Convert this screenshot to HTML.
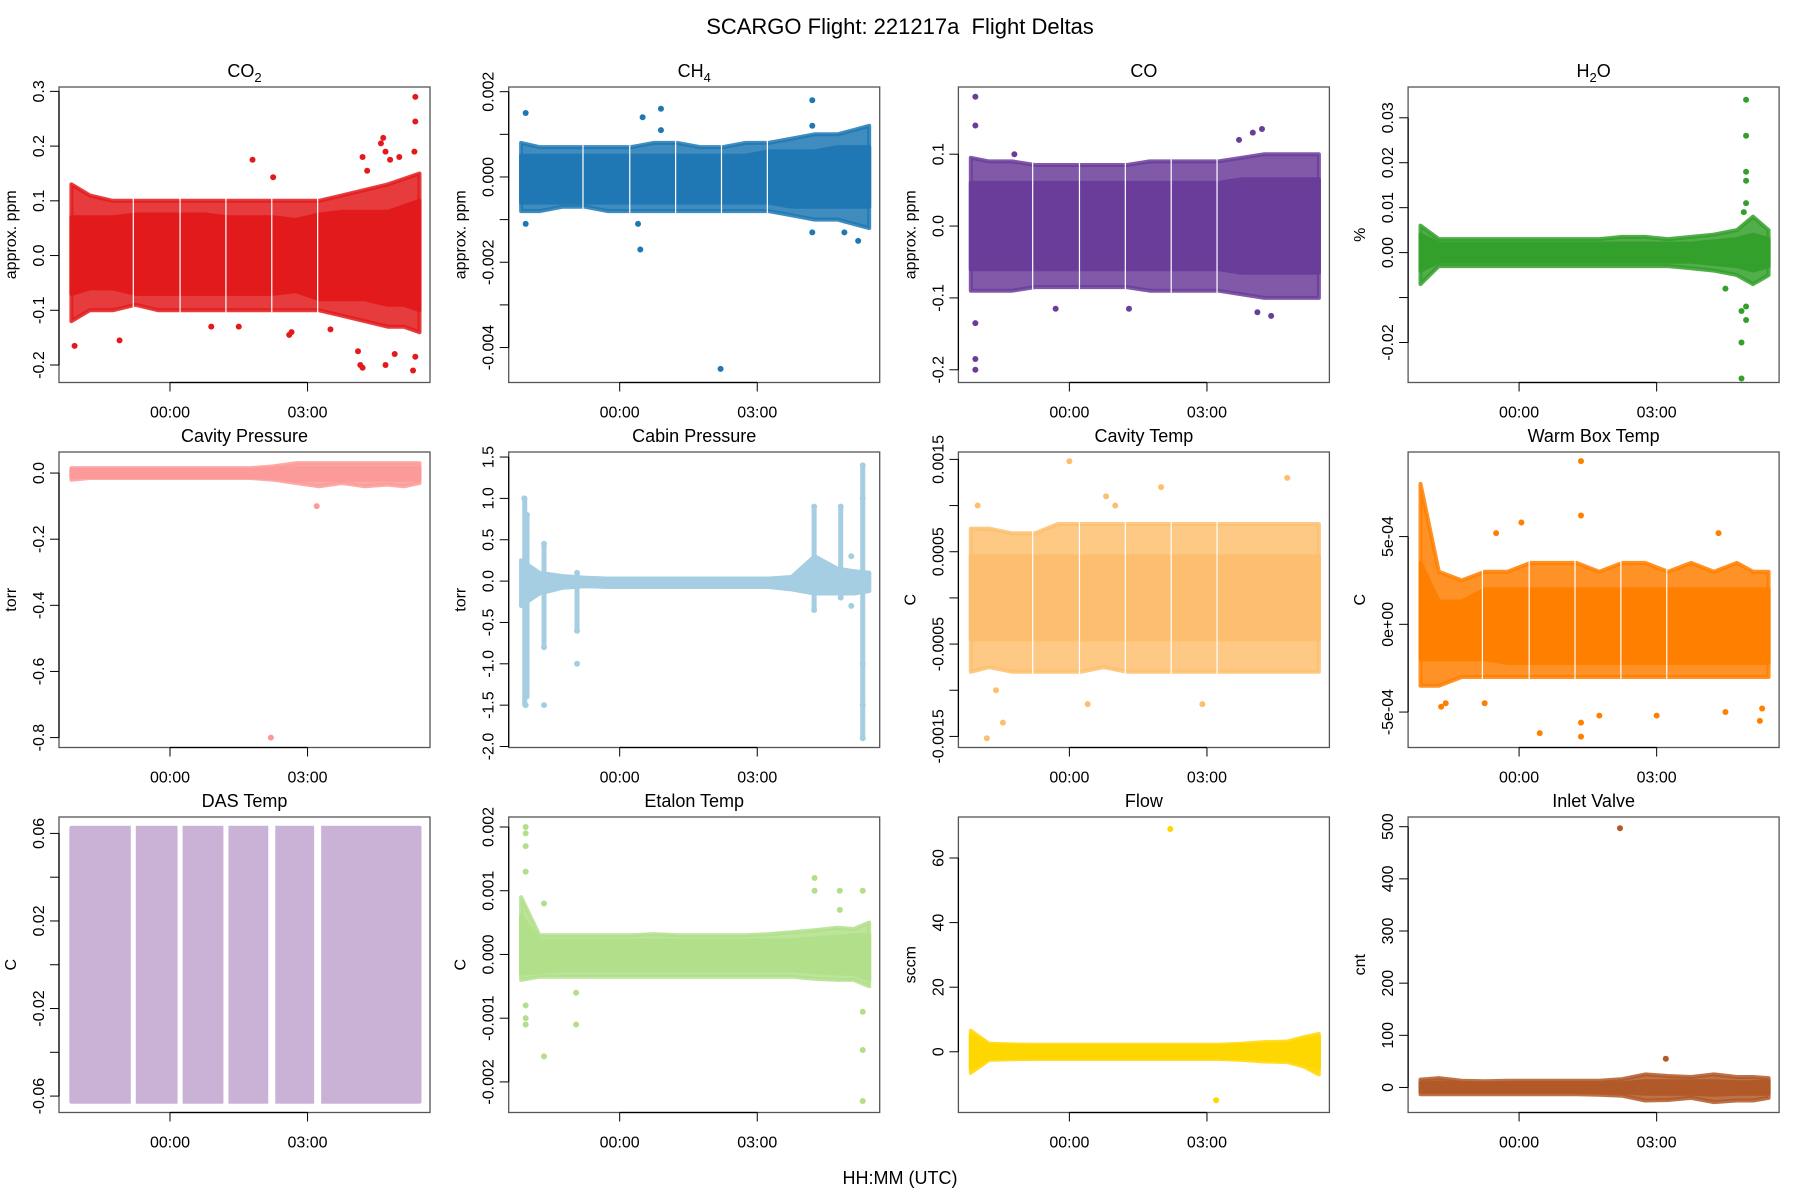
<!DOCTYPE html>
<html><head><meta charset="utf-8"><title>SCARGO Flight Deltas</title>
<style>
html,body{margin:0;padding:0;background:#fff;}
svg{display:block;font-family:"Liberation Sans",Arial,sans-serif;}
</style></head>
<body>
<svg id="chart" width="1800" height="1200" viewBox="0 0 1800 1200" xmlns="http://www.w3.org/2000/svg">
<rect x="0" y="0" width="1800" height="1200" fill="#fff"/>
<text x="900" y="34" font-size="22" text-anchor="middle" fill="#000">SCARGO Flight: 221217a&#160; Flight Deltas</text>
<text x="900" y="1184" font-size="18" text-anchor="middle" fill="#000">HH:MM (UTC)</text>
</svg>
<script>
// ---- shared time data (hours relative to 00:00 UTC) ----
const binT = [-2.15,-1.75,-1.25,-0.75,-0.25,0.25,0.75,1.25,1.75,2.25,2.75,3.25,3.75,4.25,4.75,5.1,5.44];
const gapT = [-0.8,0.22,1.22,2.22,3.22];
const xTickVals = [0,3];
const xTickLabels = ["00:00","03:00"];

// ---- CO2 ----
const co2InHi = [0.07,0.07,0.07,0.075,0.075,0.075,0.075,0.07,0.07,0.07,0.065,0.075,0.08,0.08,0.08,0.09,0.1];
const co2InLo = [-0.07,-0.06,-0.06,-0.07,-0.07,-0.07,-0.07,-0.07,-0.07,-0.07,-0.065,-0.08,-0.08,-0.08,-0.09,-0.09,-0.1];
const co2OutHi = [0.13,0.11,0.1,0.1,0.1,0.1,0.1,0.1,0.1,0.1,0.1,0.1,0.11,0.12,0.13,0.14,0.15];
const co2OutLo = [-0.12,-0.1,-0.1,-0.09,-0.1,-0.1,-0.1,-0.1,-0.1,-0.1,-0.1,-0.1,-0.11,-0.12,-0.13,-0.13,-0.14];
const co2PtT = [-2.08,-1.1,1.8,2.25,2.6,2.65,4.2,4.3,4.6,4.65,4.7,4.8,5.0,5.35,5.35,5.33,4.15,4.2,4.1,4.7,5.3,5.35,4.9,3.5,0.9,1.5];
const co2PtV = [-0.165,-0.155,0.175,0.143,-0.145,-0.14,0.18,0.155,0.205,0.215,0.19,0.175,0.18,0.29,0.245,0.19,-0.2,-0.205,-0.175,-0.2,-0.21,-0.185,-0.18,-0.135,-0.13,-0.13];
// ---- CH4 ----
const ch4InHi = [0.0005,0.0005,0.0005,0.0005,0.0005,0.0005,0.0005,0.0005,0.0005,0.0005,0.0005,0.0006,0.0006,0.0006,0.0007,0.0007,0.0007];
const ch4InLo = [-0.0006,-0.0006,-0.0006,-0.0006,-0.0006,-0.0006,-0.0006,-0.0006,-0.0006,-0.0006,-0.0006,-0.0006,-0.0007,-0.0007,-0.0007,-0.0007,-0.0007];
const ch4OutHi = [0.0008,0.0007,0.0007,0.0007,0.0007,0.0007,0.0008,0.0008,0.0007,0.0007,0.0008,0.0008,0.0009,0.001,0.001,0.0011,0.0012];
const ch4OutLo = [-0.0008,-0.0008,-0.0007,-0.0007,-0.0008,-0.0008,-0.0008,-0.0008,-0.0008,-0.0008,-0.0008,-0.0008,-0.0009,-0.001,-0.001,-0.0011,-0.0012];
const ch4PtT = [-2.05,-2.05,0.5,0.45,0.9,0.9,2.2,4.2,4.2,4.2,5.2,4.9,0.4];
const ch4PtV = [0.0015,-0.0011,0.0014,-0.0017,0.0016,0.0011,-0.0045,0.0018,0.0012,-0.0013,-0.0015,-0.0013,-0.0011];
// ---- CO ----
const coInHi = [0.06,0.06,0.06,0.06,0.06,0.06,0.06,0.06,0.06,0.06,0.06,0.06,0.065,0.065,0.065,0.065,0.065];
const coInLo = [-0.06,-0.06,-0.06,-0.06,-0.06,-0.06,-0.06,-0.06,-0.06,-0.06,-0.06,-0.06,-0.065,-0.065,-0.065,-0.065,-0.065];
const coOutHi = [0.095,0.09,0.09,0.085,0.085,0.085,0.085,0.085,0.09,0.09,0.09,0.09,0.095,0.1,0.1,0.1,0.1];
const coOutLo = [-0.09,-0.09,-0.09,-0.085,-0.085,-0.085,-0.085,-0.085,-0.09,-0.09,-0.09,-0.09,-0.095,-0.1,-0.1,-0.1,-0.1];
const coPtT = [-2.05,-2.05,-2.05,-2.05,-2.05,4.0,4.2,3.7,4.1,4.4,-0.3,1.3,-1.2];
const coPtV = [0.18,0.14,-0.135,-0.185,-0.2,0.13,0.135,0.12,-0.12,-0.125,-0.115,-0.115,0.1];
// ---- H2O ----
const h2oInHi = [0.004,0.002,0.002,0.002,0.002,0.002,0.002,0.002,0.002,0.002,0.002,0.002,0.002,0.0025,0.003,0.004,0.003];
const h2oInLo = [-0.004,-0.002,-0.002,-0.002,-0.002,-0.002,-0.002,-0.002,-0.002,-0.002,-0.002,-0.002,-0.002,-0.0025,-0.003,-0.004,-0.003];
const h2oOutHi = [0.006,0.003,0.003,0.003,0.003,0.003,0.003,0.003,0.003,0.0035,0.0035,0.003,0.0035,0.004,0.005,0.008,0.005];
const h2oOutLo = [-0.007,-0.003,-0.003,-0.003,-0.003,-0.003,-0.003,-0.003,-0.003,-0.003,-0.003,-0.003,-0.0035,-0.004,-0.005,-0.007,-0.005];
const h2oPtT = [4.95,4.95,4.95,4.95,4.95,4.9,4.85,4.85,4.85,4.95,4.95,4.5];
const h2oPtV = [0.034,0.026,0.018,0.016,0.011,0.009,-0.013,-0.02,-0.028,-0.015,-0.012,-0.008];
// ---- Cavity Pressure ----
const cavpInHi = [0.01,0.01,0.01,0.01,0.01,0.01,0.01,0.01,0.01,0.012,0.015,0.015,0.015,0.015,0.015,0.015,0.015];
const cavpInLo = [-0.012,-0.012,-0.012,-0.012,-0.012,-0.012,-0.012,-0.012,-0.012,-0.015,-0.02,-0.02,-0.02,-0.02,-0.02,-0.02,-0.02];
const cavpOutHi = [0.015,0.015,0.015,0.015,0.015,0.015,0.015,0.015,0.015,0.02,0.03,0.03,0.03,0.03,0.03,0.03,0.03];
const cavpOutLo = [-0.02,-0.015,-0.015,-0.015,-0.015,-0.015,-0.015,-0.015,-0.015,-0.02,-0.03,-0.04,-0.03,-0.04,-0.035,-0.04,-0.03];
const cavpPtT = [3.2,2.2];
const cavpPtV = [-0.1,-0.8];
// ---- Cabin Pressure ----
const cabInHi = [0.25,0.1,0.06,0.04,0.03,0.03,0.03,0.03,0.03,0.03,0.03,0.03,0.05,0.3,0.15,0.12,0.1];
const cabInLo = [-0.3,-0.15,-0.08,-0.06,-0.07,-0.07,-0.07,-0.07,-0.07,-0.07,-0.07,-0.07,-0.1,-0.15,-0.15,-0.15,-0.12];
const cabOutHi = cabInHi;
const cabOutLo = cabInLo;
const cabPtT = [-2.08,-2.05,-2.02,-2.05,-1.65,-1.65,-1.65,-0.93,-0.93,-0.93,4.24,4.24,4.82,4.82,5.05,5.05,5.3,5.3,5.3,5.3,5.3];
const cabPtV = [1.0,-1.5,0.8,-1.3,0.45,-0.8,-1.5,0.1,-0.6,-1.0,0.9,-0.35,0.9,-0.2,0.3,-0.3,1.4,1.0,-1.0,-1.5,-1.9];
const cabSpikeT = [-2.07,-2.02,-1.65,-0.93,4.24,4.82,5.3];
const cabSpikeHi = [1.0,0.8,0.45,0.1,0.9,0.9,1.4];
const cabSpikeLo = [-1.5,-1.4,-0.8,-0.6,-0.35,-0.2,-1.9];
// ---- Cavity Temp ----
const cavtInHi = [0.00045,0.00045,0.00045,0.00045,0.00045,0.00045,0.00045,0.00045,0.00045,0.00045,0.00045,0.00045,0.00045,0.00045,0.00045,0.00045,0.00045];
const cavtInLo = [-0.00045,-0.00045,-0.00045,-0.00045,-0.00045,-0.00045,-0.00045,-0.00045,-0.00045,-0.00045,-0.00045,-0.00045,-0.00045,-0.00045,-0.00045,-0.00045,-0.00045];
const cavtOutHi = [0.00075,0.00075,0.0007,0.0007,0.0008,0.0008,0.0008,0.0008,0.0008,0.0008,0.0008,0.0008,0.0008,0.0008,0.0008,0.0008,0.0008];
const cavtOutLo = [-0.0008,-0.00075,-0.0008,-0.0008,-0.0008,-0.0008,-0.00075,-0.0008,-0.0008,-0.0008,-0.0008,-0.0008,-0.0008,-0.0008,-0.0008,-0.0008,-0.0008];
const cavtPtT = [0.0,4.75,2.0,-1.45,-1.8,0.4,2.9,0.8,1.0,-2.0,-1.6];
const cavtPtV = [0.00148,0.0013,0.0012,-0.00135,-0.00152,-0.00115,-0.00115,0.0011,0.001,0.001,-0.001];
// ---- Warm Box Temp ----
const wbInHi = [0.00035,0.00013,0.00013,0.0002,0.0002,0.0002,0.0002,0.0002,0.0002,0.0002,0.0002,0.0002,0.0002,0.0002,0.0002,0.0002,0.0002];
const wbInLo = [-0.0002,-0.0002,-0.0002,-0.0002,-0.00022,-0.00022,-0.00022,-0.00022,-0.00022,-0.00022,-0.00022,-0.00022,-0.00022,-0.00022,-0.00022,-0.00022,-0.00022];
const wbOutHi = [0.0008,0.0003,0.00025,0.0003,0.0003,0.00035,0.00035,0.00035,0.0003,0.00035,0.00035,0.0003,0.00035,0.0003,0.00035,0.0003,0.0003];
const wbOutLo = [-0.00035,-0.00035,-0.0003,-0.0003,-0.0003,-0.0003,-0.0003,-0.0003,-0.0003,-0.0003,-0.0003,-0.0003,-0.0003,-0.0003,-0.0003,-0.0003,-0.0003];
const wbPtT = [1.35,1.35,0.05,-0.5,0.45,1.35,1.35,1.75,3.0,5.25,5.3,4.5,4.35,-1.7,-1.6,-0.75];
const wbPtV = [0.00093,0.00062,0.00058,0.00052,-0.00062,-0.00064,-0.00056,-0.00052,-0.00052,-0.00055,-0.00048,-0.0005,0.00052,-0.00047,-0.00045,-0.00045];
// ---- DAS Temp ----
const dasInHi = [0.0625,0.0625,0.0625,0.0625,0.0625,0.0625,0.0625,0.0625,0.0625,0.0625,0.0625,0.0625,0.0625,0.0625,0.0625,0.0625,0.0625];
const dasInLo = [-0.0625,-0.0625,-0.0625,-0.0625,-0.0625,-0.0625,-0.0625,-0.0625,-0.0625,-0.0625,-0.0625,-0.0625,-0.0625,-0.0625,-0.0625,-0.0625,-0.0625];
const dasOutHi = dasInHi;
const dasOutLo = dasInLo;
const dasPtT = [];
const dasPtV = [];
// ---- Etalon Temp ----
const etInHi = [0.0006,0.00022,0.00022,0.00022,0.00022,0.00022,0.00022,0.00022,0.00022,0.00022,0.00022,0.00022,0.00022,0.00025,0.00028,0.0003,0.0003];
const etInLo = [-0.0003,-0.00028,-0.00025,-0.00025,-0.00025,-0.00025,-0.00025,-0.00025,-0.00025,-0.00025,-0.00025,-0.00025,-0.00025,-0.00028,-0.0003,-0.0003,-0.0004];
const etOutHi = [0.0009,0.0003,0.0003,0.0003,0.0003,0.0003,0.00032,0.0003,0.0003,0.0003,0.0003,0.00032,0.00035,0.00038,0.00042,0.0004,0.0005];
const etOutLo = [-0.0004,-0.00035,-0.00035,-0.00035,-0.00035,-0.00035,-0.00035,-0.00035,-0.00035,-0.00035,-0.00035,-0.00035,-0.00035,-0.00038,-0.0004,-0.0004,-0.0005];
const etPtT = [-2.05,-2.05,-2.05,-2.05,-2.05,-2.05,-2.05,-1.65,-1.65,-0.95,-0.95,4.25,4.25,4.8,4.8,5.3,5.3,5.3,5.3];
const etPtV = [0.002,0.0019,0.0017,0.0013,-0.0008,-0.001,-0.0011,-0.0016,0.0008,-0.0011,-0.0006,0.0012,0.001,0.001,0.0007,0.001,-0.0015,-0.0023,-0.0009];
// ---- Flow ----
const flInHi = [5,2,1.8,1.8,1.8,1.8,1.8,1.8,1.8,1.8,1.8,1.8,2,2.2,2.5,3.5,4.5];
const flInLo = [-5,-2,-1.8,-1.8,-1.8,-1.8,-1.8,-1.8,-1.8,-1.8,-1.8,-1.8,-2,-2.2,-2.5,-3.5,-5];
const flOutHi = [6.5,2.5,2.3,2.2,2.2,2.2,2.2,2.2,2.2,2.2,2.2,2.2,2.5,3,3.2,4.5,5.5];
const flOutLo = [-6.5,-2.5,-2.3,-2.2,-2.2,-2.2,-2.2,-2.2,-2.2,-2.2,-2.2,-2.2,-2.5,-3,-3.2,-4.5,-7];
const flPtT = [2.2,3.2];
const flPtV = [69,-15];
// ---- Inlet Valve ----
const ivInHi = [8,9,7,7,7,7,7,7,7,8,12,12,12,12,10,10,12];
const ivInLo = [-8,-8,-8,-8,-8,-8,-8,-8,-8,-9,-12,-12,-12,-14,-12,-12,-12];
const ivOutHi = [15,18,13,12,13,13,13,13,13,16,25,22,20,25,20,20,18];
const ivOutLo = [-13,-13,-13,-13,-13,-13,-13,-13,-14,-16,-25,-24,-20,-28,-25,-25,-20];
const ivPtT = [2.2,3.2];
const ivPtV = [497,55];

// ---- y axis ticks ----
const co2Ticks = [-0.2,-0.1,0,0.1,0.2,0.3];
const co2TickLabels = ["-0.2","-0.1","0.0","0.1","0.2","0.3"];
const ch4Ticks = [-0.004,-0.003,-0.002,-0.001,0,0.001,0.002];
const ch4TickLabels = ["-0.004","","-0.002","","0.000","","0.002"];
const coTicks = [-0.2,-0.1,0,0.1];
const coTickLabels = ["-0.2","-0.1","0.0","0.1"];
const h2oTicks = [-0.02,-0.01,0,0.01,0.02,0.03];
const h2oTickLabels = ["-0.02","","0.00","0.01","0.02","0.03"];
const cavpTicks = [-0.8,-0.6,-0.4,-0.2,0];
const cavpTickLabels = ["-0.8","-0.6","-0.4","-0.2","0.0"];
const cabTicks = [-2,-1.5,-1,-0.5,0,0.5,1,1.5];
const cabTickLabels = ["-2.0","-1.5","-1.0","-0.5","0.0","0.5","1.0","1.5"];
const cavtTicks = [-0.0015,-0.001,-0.0005,0,0.0005,0.001,0.0015];
const cavtTickLabels = ["-0.0015","","-0.0005","","0.0005","","0.0015"];
const wbTicks = [-0.0005,0,0.0005];
const wbTickLabels = ["-5e-04","0e+00","5e-04"];
const dasTicks = [-0.06,-0.04,-0.02,0,0.02,0.04,0.06];
const dasTickLabels = ["-0.06","","-0.02","","0.02","","0.06"];
const etTicks = [-0.002,-0.001,0,0.001,0.002];
const etTickLabels = ["-0.002","-0.001","0.000","0.001","0.002"];
const flTicks = [0,20,40,60];
const flTickLabels = ["0","20","40","60"];
const ivTicks = [0,100,200,300,400,500];
const ivTickLabels = ["0","100","200","300","400","500"];

const panels = [
 {key:"co2",title:["CO","2"],ylab:"approx. ppm",col:"#e31a1c",dom:[-0.232,0.308],inHi:co2InHi,inLo:co2InLo,outHi:co2OutHi,outLo:co2OutLo,pt:co2PtT,pv:co2PtV,ticks:co2Ticks,tl:co2TickLabels,gaps:1},
 {key:"ch4",title:["CH","4"],ylab:"approx. ppm",col:"#1f78b4",dom:[-0.00482,0.00211],inHi:ch4InHi,inLo:ch4InLo,outHi:ch4OutHi,outLo:ch4OutLo,pt:ch4PtT,pv:ch4PtV,ticks:ch4Ticks,tl:ch4TickLabels,gaps:1},
 {key:"co",title:["CO",""],ylab:"approx. ppm",col:"#6a3d9a",dom:[-0.2177,0.1935],inHi:coInHi,inLo:coInLo,outHi:coOutHi,outLo:coOutLo,pt:coPtT,pv:coPtV,ticks:coTicks,tl:coTickLabels,gaps:1},
 {key:"h2o",title:["H","2","O"],ylab:"%",col:"#33a02c",dom:[-0.0289,0.03685],inHi:h2oInHi,inLo:h2oInLo,outHi:h2oOutHi,outLo:h2oOutLo,pt:h2oPtT,pv:h2oPtV,ticks:h2oTicks,tl:h2oTickLabels,gaps:0},
 {key:"cavity-pressure",title:["Cavity Pressure"],ylab:"torr",col:"#fb9a99",dom:[-0.83,0.0637],inHi:cavpInHi,inLo:cavpInLo,outHi:cavpOutHi,outLo:cavpOutLo,pt:cavpPtT,pv:cavpPtV,ticks:cavpTicks,tl:cavpTickLabels,gaps:0},
 {key:"cabin-pressure",title:["Cabin Pressure"],ylab:"torr",col:"#a6cee3",dom:[-2.012,1.561],inHi:cabInHi,inLo:cabInLo,outHi:cabOutHi,outLo:cabOutLo,pt:cabPtT,pv:cabPtV,ticks:cabTicks,tl:cabTickLabels,gaps:0,spikes:[cabSpikeT,cabSpikeHi,cabSpikeLo]},
 {key:"cavity-temp",title:["Cavity Temp"],ylab:"C",col:"#fdbf6f",dom:[-0.00162,0.00158],inHi:cavtInHi,inLo:cavtInLo,outHi:cavtOutHi,outLo:cavtOutLo,pt:cavtPtT,pv:cavtPtV,ticks:cavtTicks,tl:cavtTickLabels,gaps:1},
 {key:"warm-box-temp",title:["Warm Box Temp"],ylab:"C",col:"#ff7f00",dom:[-0.000702,0.000982],inHi:wbInHi,inLo:wbInLo,outHi:wbOutHi,outLo:wbOutLo,pt:wbPtT,pv:wbPtV,ticks:wbTicks,tl:wbTickLabels,gaps:1},
 {key:"das-temp",title:["DAS Temp"],ylab:"C",col:"#cab2d6",dom:[-0.0675,0.0675],inHi:dasInHi,inLo:dasInLo,outHi:dasOutHi,outLo:dasOutLo,pt:dasPtT,pv:dasPtV,ticks:dasTicks,tl:dasTickLabels,gaps:2},
 {key:"etalon-temp",title:["Etalon Temp"],ylab:"C",col:"#b2df8a",dom:[-0.00248,0.002157],inHi:etInHi,inLo:etInLo,outHi:etOutHi,outLo:etOutLo,pt:etPtT,pv:etPtV,ticks:etTicks,tl:etTickLabels,gaps:0},
 {key:"flow",title:["Flow"],ylab:"sccm",col:"#ffd700",dom:[-18.8,72.7],inHi:flInHi,inLo:flInLo,outHi:flOutHi,outLo:flOutLo,pt:flPtT,pv:flPtV,ticks:flTicks,tl:flTickLabels,gaps:0},
 {key:"inlet-valve",title:["Inlet Valve"],ylab:"cnt",col:"#b15928",dom:[-48,518.6],inHi:ivInHi,inLo:ivInLo,outHi:ivOutHi,outLo:ivOutLo,pt:ivPtT,pv:ivPtV,ticks:ivTicks,tl:ivTickLabels,gaps:0}
];

const NS = "http://www.w3.org/2000/svg";
const svg = document.getElementById("chart");
const X0 = -2.42, X1 = 5.67;
const colLeft = [59, 508.7, 958.4, 1408.1];
const rowTop = [87, 452, 817];
const W = 371, H = 295.5;

function mk(tag, attrs, parent){
  const e = document.createElementNS(NS, tag);
  for (const k in attrs) e.setAttribute(k, attrs[k]);
  (parent||svg).appendChild(e);
  return e;
}

panels.forEach((p, i) => {
  const L = colLeft[i % 4], T = rowTop[Math.floor(i / 4)];
  const xs = t => L + (t - X0) / (X1 - X0) * W;
  const ys = v => T + H - (v - p.dom[0]) / (p.dom[1] - p.dom[0]) * H;
  const g = mk("g", {});
  
  
  const clipId = "clip" + i;
  const cp = mk("clipPath", {id: clipId}, g);
  mk("rect", {x: L, y: T, width: W, height: H}, cp);
  const data = mk("g", {"clip-path": "url(#" + clipId + ")"}, g);
  
  

  const band = (hi, lo, op, name) => {
    let d = "";
    binT.forEach((t, j) => { d += (j ? "L" : "M") + xs(t).toFixed(1) + "," + ys(hi[j]).toFixed(1); });
    for (let j = binT.length - 1; j >= 0; j--) d += "L" + xs(binT[j]).toFixed(1) + "," + ys(lo[j]).toFixed(1);
    d += "Z";
    const pth = mk("path", {d: d, fill: p.col, "fill-opacity": op, stroke: p.col, "stroke-width": 4, "stroke-opacity": op, "stroke-linejoin": "round"}, data);
    
    
  };
  band(p.outHi, p.outLo, 0.85, p.key + '-outer-band');
  band(p.inHi, p.inLo, 1, p.key + '-core-band');

  if (p.spikes) {
    p.spikes[0].forEach((t, j) => {
      const ln = mk("line", {x1: xs(t), x2: xs(t), y1: ys(p.spikes[1][j]), y2: ys(p.spikes[2][j]), stroke: p.col, "stroke-width": 5, "stroke-linecap": "round"}, data);
      
      
    });
  }
  if (p.gaps) {
    gapT.forEach(t => {
      const ln = mk("line", {x1: xs(t), x2: xs(t), y1: T, y2: T + H, stroke: "#fff", "stroke-width": p.gaps === 2 ? (t > 2 ? 7 : 5) : 1.2}, data);
      
      
    });
  }
  p.pt.forEach((t, j) => {
    const c = mk("circle", {cx: xs(t), cy: ys(p.pv[j]), r: 3, fill: p.col}, data);
    
    
  });

  const box = mk("rect", {x: L, y: T, width: W, height: H, fill: "none", stroke: "#555", "stroke-width": 1.3}, g);
  
  

  const xa = mk("line", {x1: xs(xTickVals[0]), x2: xs(xTickVals[xTickVals.length - 1]), y1: T + H, y2: T + H, stroke: "#000", "stroke-width": 1.2}, g);
  
  
  xTickVals.forEach((v, j) => {
    const tk = mk("line", {x1: xs(v), x2: xs(v), y1: T + H, y2: T + H + 9, stroke: "#000", "stroke-width": 1}, g);
    
    
    const tx = mk("text", {x: xs(v), y: T + H + 35, "font-size": 16, "text-anchor": "middle", fill: "#000"}, g);
    tx.textContent = xTickLabels[j];
    
    
  });

  const ya = mk("line", {x1: L, x2: L, y1: ys(p.ticks[0]), y2: ys(p.ticks[p.ticks.length - 1]), stroke: "#000", "stroke-width": 1.2}, g);
  
  
  p.ticks.forEach((v, j) => {
    const y = ys(v);
    const tk = mk("line", {x1: L - 9, x2: L, y1: y, y2: y, stroke: "#000", "stroke-width": 1}, g);
    
    
    if (p.tl[j]) {
      const tx = mk("text", {x: 0, y: 0, "font-size": 16, "text-anchor": "middle", fill: "#000", transform: "translate(" + (L - 15) + "," + y + ") rotate(-90)"}, g);
      tx.textContent = p.tl[j];
      
      
    }
  });
  const yl = mk("text", {x: 0, y: 0, "font-size": 16, "text-anchor": "middle", fill: "#000", transform: "translate(" + (L - 43) + "," + (T + H / 2) + ") rotate(-90)"}, g);
  yl.textContent = p.ylab;
  
  

  const tt = mk("text", {x: L + W / 2, y: T - 10, "font-size": 18, "text-anchor": "middle", fill: "#000"}, g);
  
  
  if (p.title.length === 1) {
    tt.textContent = p.title[0];
  } else {
    const a = mk("tspan", {}, tt); a.textContent = p.title[0];
    if (p.title[1]) {
      const b = mk("tspan", {dy: 5, "font-size": 13}, tt); b.textContent = p.title[1];
      if (p.title[2]) { const c = mk("tspan", {dy: -5}, tt); c.textContent = p.title[2]; }
    }
  }
});
</script>
</body></html>
